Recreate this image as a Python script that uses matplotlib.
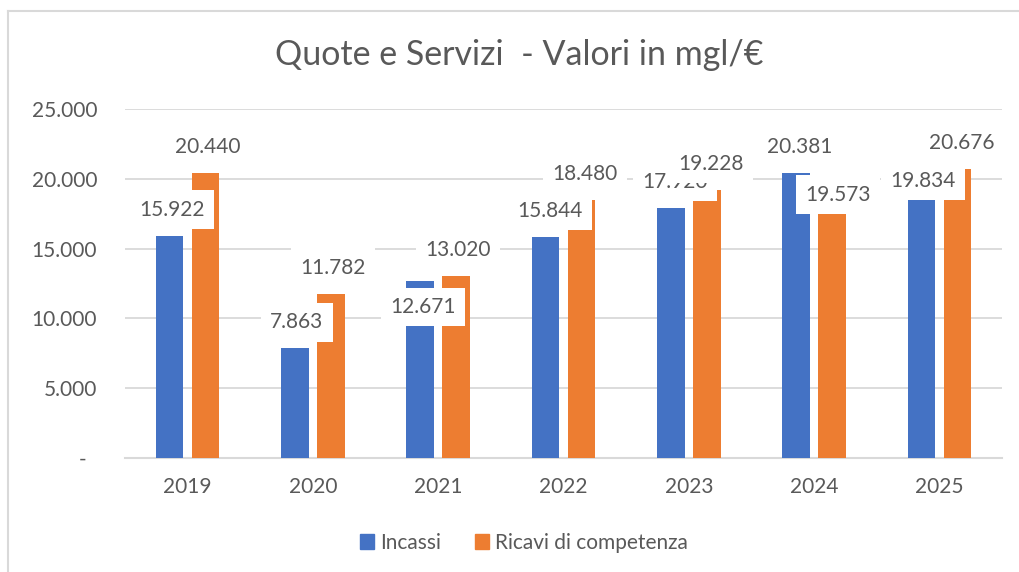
import numpy as np
import matplotlib
matplotlib.use('Agg')
import matplotlib.pyplot as plt
from matplotlib.lines import Line2D
from matplotlib.ticker import FuncFormatter

# --- Dati ---
anni = ['2019', '2020', '2021', '2022', '2023', '2024', '2025']
incassi = [15922, 7863, 12671, 15844, 17920, 20381, 19834]
ricavi = [20440, 11782, 13020, 18480, 19228, 19573, 20676]
serie_nomi = ['Incassi', 'Ricavi di competenza']

# spostamento delle etichette rispetto alla cima della barra (pixel: dx, dy)
off_incassi = [(2, 26), (2, 26), (3, -26), (4, 26), (4, 26), (4, 26), (2, 0)]
off_ricavi = [(2, 26), (2, 26), (2, 26), (3, 26), (4, 26), (6, -10), (4, 26)]

blu = '#4472C4'
arancio = '#ED7D31'
grigio_testo = '#595959'
grigio_linee = '#D9D9D9'

plt.rcParams['font.family'] = ['Lato', 'DejaVu Sans']

W, H = 1019, 572
fig = plt.figure(figsize=(W / 100, H / 100), dpi=100)
ax = fig.add_axes([125 / W, 1 - 458 / H, 877 / W, 349 / H])

x = np.arange(len(anni))
larg = 0.22
sp = 0.1437
ax.bar(x - sp, incassi, larg, color=blu, zorder=2)
ax.bar(x + sp, ricavi, larg, color=arancio, zorder=2)

ax.set_xlim(-0.5, len(anni) - 0.5)
ax.set_ylim(0, 25000)
ax.set_yticks(np.arange(0, 25001, 5000))
ax.yaxis.set_major_formatter(FuncFormatter(
    lambda v, p: '-  ' if v == 0 else f'{int(v):,}'.replace(',', '.')))
ax.set_xticks(x)
ax.set_xticklabels(anni)

ax.grid(axis='y', color=grigio_linee, linewidth=1.3, zorder=0)
for s in ['top', 'right', 'left']:
    ax.spines[s].set_visible(False)
ax.spines['bottom'].set_color(grigio_linee)
ax.spines['bottom'].set_linewidth(1.5)
ax.spines['bottom'].set_zorder(1)
ax.tick_params(axis='y', length=0, pad=20, labelsize=15, labelcolor=grigio_testo)
ax.tick_params(axis='x', length=0, pad=14, labelsize=15, labelcolor=grigio_testo)

px = 0.72  # pixel -> punti


def etichette(valori, offset, dx_barra, z):
    for i, v in enumerate(valori):
        dx, dy = offset[i]
        ax.annotate(f'{v:,}'.replace(',', '.'), xy=(x[i] + dx_barra, v),
                    xytext=(dx * px, dy * px), textcoords='offset points',
                    ha='center', va='center', fontsize=15, color=grigio_testo,
                    bbox=dict(boxstyle='square,pad=0.45', fc='white', ec='none'),
                    zorder=z)


etichette(incassi, off_incassi, -sp, 5)
etichette(ricavi, off_ricavi, sp, 6)

fig.text(519 / W, 1 - 55 / H, 'Quote e Servizi  - Valori in mgl/€',
         ha='center', va='center', fontsize=24.5, color=grigio_testo)

maniglie = [plt.Rectangle((0, 0), 1, 1, color=blu),
            plt.Rectangle((0, 0), 1, 1, color=arancio)]
fig.legend(maniglie, serie_nomi, loc='center', bbox_to_anchor=(524 / W, 1 - 543 / H),
           ncol=2, frameon=False, fontsize=15, labelcolor=grigio_testo,
           handlelength=0.7, handleheight=0.7, handletextpad=0.3, columnspacing=1.6)

# cornice del grafico
fig.add_artist(Line2D([8 / W, 8 / W], [0, 1 - 11 / H], color=grigio_linee, lw=1.5))
fig.add_artist(Line2D([8 / W, 1], [1 - 11 / H, 1 - 11 / H], color=grigio_linee, lw=1.5))

fig.savefig('out.png', dpi=100)
